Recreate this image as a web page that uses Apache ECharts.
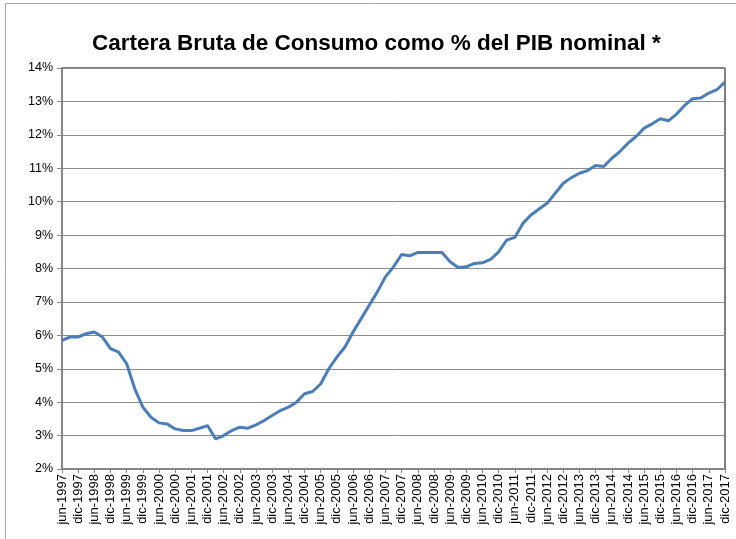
<!DOCTYPE html>
<html>
<head>
<meta charset="utf-8">
<script src="https://cdn.jsdelivr.net/npm/echarts@6/dist/echarts.min.js"></script>
<style>
  html, body { margin: 0; padding: 0; background: #fff; }
  #chart { width: 736px; height: 539px; }
</style>
</head>
<body>
<div id="chart"></div>
<script>
// Quarterly consumer gross loan portfolio as % of nominal GDP
const titleText = 'Cartera Bruta de Consumo como % del PIB nominal *';

const monthNames = ['mar', 'jun', 'sep', 'dic'];
const startYear = 1997;
const startQuarter = 1; // jun
const quarterCount = 83; // jun-1997 .. dic-2017

const categories = [];
for (let k = 0; k < quarterCount; k++) {
  const q = startQuarter + k;
  categories.push(monthNames[q % 4] + '-' + (startYear + Math.floor(q / 4)));
}

const carteraPct = [
  5.85, 5.95, 5.95, 6.05, 6.10, 5.95, 5.60, 5.50, 5.15, 4.40,
  3.85, 3.55, 3.38, 3.35, 3.20, 3.15, 3.15, 3.22, 3.30, 2.90,
  3.00, 3.15, 3.25, 3.22, 3.32, 3.45, 3.60, 3.75, 3.85, 4.00,
  4.25, 4.32, 4.55, 5.00, 5.35, 5.65, 6.10, 6.50, 6.90, 7.30,
  7.75, 8.05, 8.42, 8.38, 8.48, 8.48, 8.48, 8.48, 8.20, 8.03,
  8.05, 8.15, 8.17, 8.27, 8.50, 8.85, 8.93, 9.35, 9.60, 9.78,
  9.95, 10.25, 10.55, 10.72, 10.85, 10.93, 11.08, 11.05, 11.30, 11.50,
  11.75, 11.95, 12.20, 12.33, 12.48, 12.42, 12.62, 12.88, 13.08, 13.10,
  13.25, 13.35, 13.58
];

const yMin = 2, yMax = 14, yStep = 1;

const chart = echarts.init(document.getElementById('chart'), null, { renderer: 'canvas' });
chart.setOption({
  animation: false,
  backgroundColor: '#fff',
  textStyle: { fontFamily: 'Liberation Sans, Arial, sans-serif' },
  title: {
    text: titleText,
    left: 87,
    top: 27,
    textStyle: { fontSize: 22.5, fontWeight: 'bold', color: '#000', fontFamily: 'Liberation Sans, Arial, sans-serif' }
  },
  graphic: [{
    type: 'rect',
    shape: { x: 5.5, y: 3.5, width: 740, height: 545 },
    style: { fill: 'none', stroke: '#a6a6a6', lineWidth: 1 },
    silent: true
  }],
  grid: {
    left: 62, right: 11, top: 68, bottom: 70,
    show: true, borderColor: '#000', borderWidth: 1, backgroundColor: 'transparent'
  },
  xAxis: {
    type: 'category',
    data: categories,
    boundaryGap: false,
    axisLine: { lineStyle: { color: '#868686', width: 2 } },
    axisTick: { show: true, interval: 1, length: 4, lineStyle: { color: '#868686' } },
    axisLabel: { interval: 1, rotate: 90, fontSize: 13, color: '#000', margin: 5 },
    splitLine: { show: false }
  },
  yAxis: {
    type: 'value',
    min: yMin, max: yMax, interval: yStep,
    axisLine: { show: true, lineStyle: { color: '#868686', width: 2 } },
    axisTick: { show: true, length: 5, lineStyle: { color: '#868686' } },
    axisLabel: { formatter: '{value}%', fontSize: 12.5, color: '#000', margin: 9 },
    splitLine: { show: true, lineStyle: { color: '#8c8c8c', width: 1 } }
  },
  series: [{
    type: 'line',
    data: carteraPct,
    showSymbol: false,
    smooth: false,
    lineStyle: { color: '#4a7ebb', width: 3 },
    z: 5
  }]
});
</script>
</body>
</html>
